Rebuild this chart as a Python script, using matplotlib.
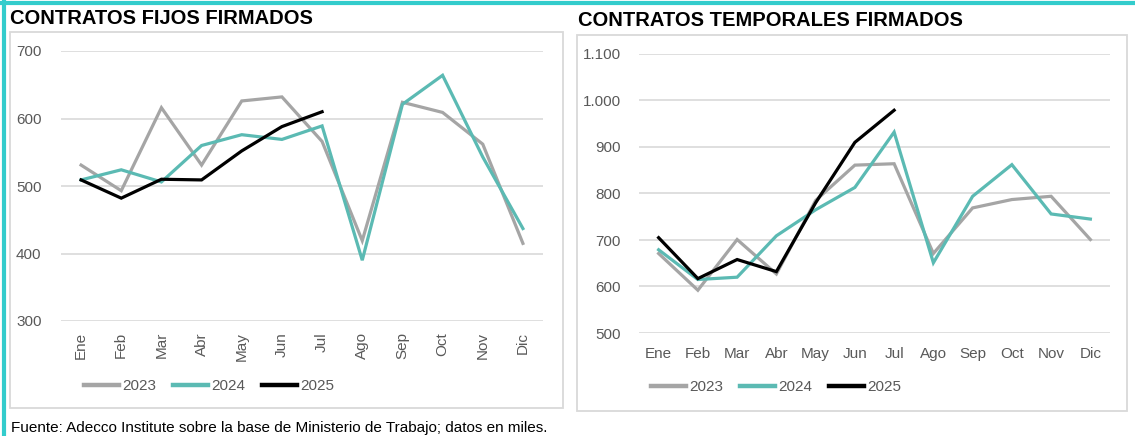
import matplotlib
matplotlib.use("Agg")
import matplotlib.pyplot as plt
from matplotlib.patches import Rectangle
from matplotlib.lines import Line2D

plt.rcParams["font.family"] = ["Liberation Sans", "DejaVu Sans"]

# --- Data (miles de contratos) ---
months = ["Ene", "Feb", "Mar", "Abr", "May", "Jun", "Jul", "Ago", "Sep", "Oct", "Nov", "Dic"]

fijos_2023 = [531, 493, 616, 531, 626, 632, 566, 419, 624, 609, 562, 415]
fijos_2024 = [509, 524, 506, 560, 576, 569, 589, 390, 621, 664, 543, 437]
fijos_2025 = [509, 482, 510, 509, 552, 588, 610]

temp_2023 = [671, 592, 701, 627, 785, 861, 864, 671, 769, 787, 794, 701]
temp_2024 = [679, 615, 620, 709, 765, 813, 932, 651, 794, 862, 756, 745]
temp_2025 = [705, 617, 658, 632, 780, 910, 979]

years = ["2023", "2024", "2025"]
colors = ["#A5A5A5", "#5BBAB3", "#000000"]

W, H = 1135, 436
fig = plt.figure(figsize=(W / 100, H / 100), dpi=100)


def px_axes(x0, x1, ytop, ybot):
    """Add axes from pixel coords (origin top-left)."""
    return fig.add_axes([x0 / W, 1 - ybot / H, (x1 - x0) / W, (ybot - ytop) / H])


def frame(x0, x1, ytop, ybot):
    fig.patches.append(Rectangle((x0 / W, 1 - ybot / H), (x1 - x0) / W, (ybot - ytop) / H,
                                 transform=fig.transFigure, fill=False,
                                 edgecolor="#D9D9D9", linewidth=1.3, zorder=0))


def style(ax, ylim, yticks, ylabels):
    ax.set_xlim(-0.5, 11.5)
    ax.set_ylim(*ylim)
    ax.set_yticks(yticks)
    ax.set_yticklabels(ylabels)
    ax.set_xticks(range(12))
    for s in ax.spines.values():
        s.set_visible(False)
    ax.grid(axis="y", color="#D9D9D9", linewidth=1.2)
    ax.set_axisbelow(True)
    ax.tick_params(length=0, colors="#595959", labelsize=11)


def draw(ax, series):
    for vals, c in zip(series, colors):
        ax.plot(range(len(vals)), vals, color=c, linewidth=2.3, solid_joinstyle="miter")


# --- Panel frames ---
frame(10, 563, 32, 408)
frame(577, 1127, 35, 411)

# --- Left: fijos ---
ax1 = px_axes(61, 543, 51, 321)
draw(ax1, [fijos_2023, fijos_2024, fijos_2025])
style(ax1, (300, 700), [300, 400, 500, 600, 700], ["300", "400", "500", "600", "700"])
ax1.set_xticklabels(months, rotation=90)
ax1.tick_params(axis="y", pad=14)
ax1.tick_params(axis="x", pad=8)

# --- Right: temporales ---
ax2 = px_axes(639, 1110, 54, 333)
draw(ax2, [temp_2023, temp_2024, temp_2025])
style(ax2, (500, 1100), [500, 600, 700, 800, 900, 1000, 1100],
      ["500", "600", "700", "800", "900", "1.000", "1.100"])
ax2.set_xticklabels(months)
ax2.tick_params(axis="y", pad=13)
ax2.tick_params(axis="x", pad=10)

# --- Legends ---
handles = [Line2D([], [], color=c, linewidth=3.2) for c in colors]
for xl, yl in ((84, 386), (651, 387)):
    fig.legend(handles, years, loc="center left", bbox_to_anchor=(xl / W, 1 - yl / H),
               ncol=3, frameon=False, fontsize=11, labelcolor="#595959",
               handlelength=2.3, handletextpad=0.2, columnspacing=1.1,
               borderpad=0, borderaxespad=0)

# --- Titles and source ---
fig.text(10 / W, 1 - 19 / H, "CONTRATOS FIJOS FIRMADOS", fontsize=14.5, fontweight="bold",
         va="center", ha="left")
fig.text(578 / W, 1 - 20 / H, "CONTRATOS TEMPORALES FIRMADOS", fontsize=14.5, fontweight="bold",
         va="center", ha="left")
fig.text(11 / W, 1 - 428 / H,
         "Fuente: Adecco Institute sobre la base de Ministerio de Trabajo; datos en miles.",
         fontsize=11, va="center", ha="left")

# --- Teal border (top and left) ---
fig.lines.append(Line2D([0, 1], [1 - 3.5 / H, 1 - 3.5 / H], transform=fig.transFigure,
                        color="#33CCCC", linewidth=3))
fig.lines.append(Line2D([3.5 / W, 3.5 / W], [0, 1], transform=fig.transFigure,
                        color="#33CCCC", linewidth=3))

fig.savefig("out.png", dpi=100)
